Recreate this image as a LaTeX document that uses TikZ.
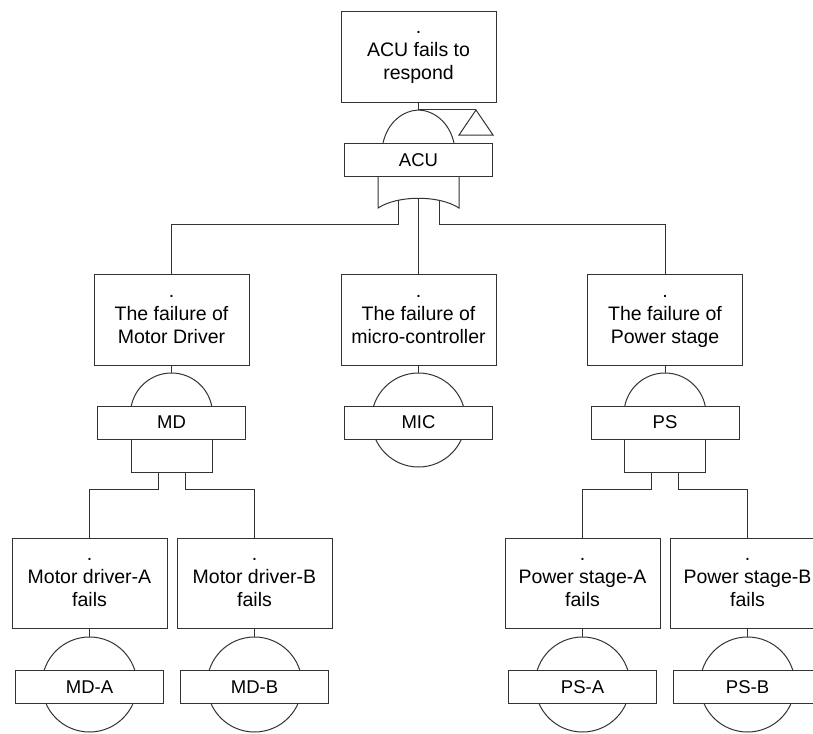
\documentclass[tikz,border=0pt]{standalone}
\usepackage{fontspec}
\setmainfont{Liberation Sans}
% three-line event text: a lone dot, then two lines; the extra depth keeps
% the second line's baseline on the box centre
\newcommand\evtext[2]{\strut.\\\strut #1\\\strut #2\rule[-16.1pt]{0pt}{16.1pt}}
\begin{document}
\begin{tikzpicture}[x=1pt,y=-1pt,
  ln/.style={line width=1pt, draw=black!80, line join=miter},
  evbox/.style={ln, rectangle, minimum width=155pt, minimum height=90.5pt,
    inner sep=0pt, align=center, font=\fontsize{19.5}{23}\selectfont},
  tagbox/.style={ln, rectangle, fill=white, minimum width=148pt, minimum height=33pt,
    inner sep=0pt, font=\fontsize{18.5}{21}\selectfont},
]
\useasboundingbox[fill=white] (0,0) rectangle (813,733);

% ---------- event boxes ----------
\node[evbox] (top)  at (418.5,57)    {\evtext{ACU fails to}{respond}};
\node[evbox] (fMD)  at (171.5,320)   {\evtext{The failure of}{Motor Driver}};
\node[evbox] (fMIC) at (418.5,320)   {\evtext{The failure of}{micro-controller}};
\node[evbox] (fPS)  at (665,320)     {\evtext{The failure of}{Power stage}};
\node[evbox] (eMDA) at (89.5,583.5)  {\evtext{Motor driver-A}{fails}};
\node[evbox] (eMDB) at (254.5,583.5) {\evtext{Motor driver-B}{fails}};
\node[evbox] (ePSA) at (582.5,583.5) {\evtext{Power stage-A}{fails}};
\node[evbox] (ePSB) at (747.5,583.5) {\evtext{Power stage-B}{fails}};

% ---------- OR gate ACU with transfer triangle ----------
\coordinate (gA) at (418.5,110);
\coordinate (xfer) at (476,110);
\draw[ln] (top.south) -- (gA);
\draw[ln] (gA) -- (xfer);
\draw[ln] (xfer) -- (493,135) -- (459,135) -- cycle;
\draw[ln] (383,143) .. controls (388,121) and (404,110.5) .. (gA)
               .. controls (433,110.5) and (449,121) .. (454,143);
\draw[ln] (378,176) -- (378,208) .. controls (398,195) and (439,195) .. (459,208) -- (459,176);
\coordinate (oL) at (398,200.3);
\coordinate (oC) at (418.5,198.3);
\coordinate (oR) at (439,200.3);
\coordinate (busA) at (0,224);
\draw[ln] (oC) -- (fMIC.north);
\draw[ln] (oL) -- (oL |- busA) -| (fMD.north);
\draw[ln] (oR) -- (oR |- busA) -| (fPS.north);

% ---------- AND gate MD ----------
\coordinate (mdA) at (171.5,373);
\draw[ln] (fMD.south) -- (mdA);
\draw[ln] plot[domain=11.25:168.75, samples=40] ({171.5+41*cos(\x)}, {414-41*sin(\x)});
\draw[ln] (131,439) -- (131,472) -- (212,472) -- (212,439);
\coordinate (mdL) at (158,472);
\coordinate (mdR) at (185,472);
\coordinate (busB) at (0,489);
\draw[ln] (mdL) -- (mdL |- busB) -| (eMDA.north);
\draw[ln] (mdR) -- (mdR |- busB) -| (eMDB.north);

% ---------- AND gate PS ----------
\coordinate (psA) at (665,373);
\draw[ln] (fPS.south) -- (psA);
\draw[ln] plot[domain=11.25:168.75, samples=40] ({665+41*cos(\x)}, {414-41*sin(\x)});
\draw[ln] (624.5,439) -- (624.5,472) -- (705.5,472) -- (705.5,439);
\coordinate (psL) at (651.5,472);
\coordinate (psR) at (678.5,472);
\draw[ln] (psL) -- (psL |- busB) -| (ePSA.north);
\draw[ln] (psR) -- (psR |- busB) -| (ePSB.north);

% ---------- basic events ----------
\draw[ln] (fMIC.south) -- (418.5,373);
\draw[ln] (418.5,420) circle[radius=47pt];
\foreach \e/\x in {eMDA/89.5, eMDB/254.5, ePSA/582.5, ePSB/747.5} {
  \draw[ln] (\e.south) -- (\x,637);
  \draw[ln] (\x,684.5) circle[radius=47.5pt];
}

% ---------- gate and event tags ----------
\node[tagbox] (tACU)  at (418.5,160)  {ACU};
\node[tagbox] (tMD)   at (171.5,422.5) {MD};
\node[tagbox] (tMIC)  at (418.5,422.5) {MIC};
\node[tagbox] (tPS)   at (665,422.5)   {PS};
\node[tagbox] (tMDA)  at (89.5,687)   {MD-A};
\node[tagbox] (tMDB)  at (254.5,687)  {MD-B};
\node[tagbox] (tPSA)  at (582.5,687)  {PS-A};
\node[tagbox] (tPSB)  at (747.5,687)  {PS-B};
\end{tikzpicture}
\end{document}
